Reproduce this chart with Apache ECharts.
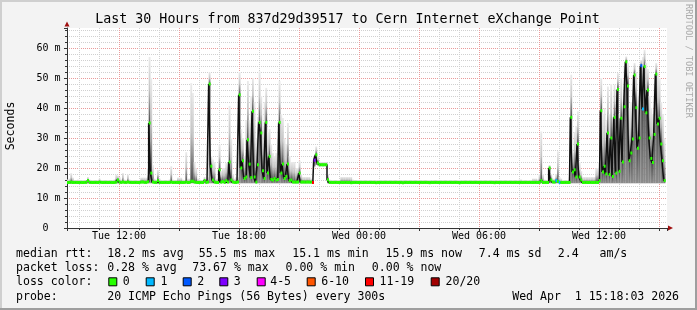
<!DOCTYPE html>
<html><head><meta charset="utf-8">
<script src="https://cdn.jsdelivr.net/npm/echarts@6/dist/echarts.min.js"></script>
<style>html,body{margin:0;padding:0;background:#f3f3f3}#c{width:697px;height:310px}</style>
</head><body><div id="c"></div>
<script>
// ---- data ----
const startHour = 9.4;            // Tue 09:24, hours since Tue 00:00
const stepHours = 5 / 60;         // one probe every 300 s
const spanHours = 30;
// median rtt per 5-minute step (ms), 12 steps per row
const medianRtt = [
15.2,15.2,15.3,15.2,15.2,15.2,15.2,15.2,15.2,15.2,15.2,15.2,
15.8,15.2,15.2,15.2,15.2,15.2,15.2,15.3,15.2,15.2,15.2,15.2,
15.2,15.2,15.2,15.2,15.2,15.3,16.0,15.3,15.2,15.3,15.2,15.2,
15.3,15.2,15.2,15.2,15.2,15.2,15.2,15.2,15.3,15.3,15.2,15.2,
15.4,35.0,18.3,15.3,15.2,15.2,15.8,15.2,15.2,15.2,15.2,15.2,
15.2,15.2,15.3,15.2,15.2,15.2,15.2,15.2,15.2,15.2,15.2,15.3,
15.2,15.2,15.6,15.6,15.3,15.2,15.2,15.2,15.2,15.2,15.8,15.2,
15.3,48.0,20.6,16.0,15.3,15.2,15.2,19.4,15.3,15.5,15.2,15.8,
15.3,22.0,16.0,15.3,15.2,15.2,15.3,44.4,20.0,22.4,16.5,17.0,
29.4,21.3,16.8,38.9,17.0,15.3,21.1,35.2,31.7,19.1,16.5,35.2,
18.3,23.9,16.2,16.0,16.5,16.0,16.2,35.2,18.3,21.3,16.5,17.2,
21.3,15.8,16.0,15.3,15.3,15.3,15.3,18.3,15.3,15.3,15.3,15.3,
15.3,15.3,15.3,15.2,22.6,24.4,21.7,21.1,21.1,21.1,21.1,21.1,
16.1,15.2,15.2,15.2,15.2,15.2,15.2,15.2,15.2,15.2,15.2,15.2,
15.2,15.2,15.1,15.2,15.2,15.2,15.2,15.2,15.2,15.2,15.2,15.2,
15.2,15.2,15.2,15.2,15.2,15.1,15.2,15.2,15.2,15.2,15.2,15.2,
15.2,15.2,15.2,15.2,15.2,15.2,15.2,15.2,15.2,15.1,15.2,15.2,
15.2,15.2,15.2,15.2,15.2,15.2,15.2,15.2,15.2,15.2,15.2,15.2,
15.2,15.1,15.2,15.2,15.2,15.2,15.2,15.2,15.2,15.2,15.2,15.2,
15.2,15.2,15.2,15.2,15.2,15.2,15.2,15.1,15.2,15.2,15.2,15.2,
15.2,15.2,15.2,15.2,15.2,15.2,15.2,15.2,15.2,15.2,15.2,15.2,
15.2,15.2,15.2,15.2,15.1,15.2,15.2,15.2,15.2,15.2,15.2,15.2,
15.2,15.2,15.2,15.2,15.2,15.2,15.2,15.2,15.2,15.2,15.2,15.2,
15.2,15.2,15.2,15.2,15.2,15.2,15.2,15.2,15.8,15.2,15.2,15.2,
15.2,20.0,16.0,15.3,15.3,15.8,15.5,15.2,15.2,15.2,15.2,15.2,
15.2,15.2,36.9,18.7,19.4,17.0,28.0,17.0,16.0,15.2,15.2,15.2,
15.2,15.2,15.2,15.2,15.2,15.2,15.2,15.8,39.1,18.7,20.6,18.0,
31.7,17.8,30.0,17.2,36.9,18.3,46.2,18.9,36.6,22.0,40.4,55.4,
47.3,22.4,25.0,29.7,51.0,40.1,26.6,30.0,54.1,39.7,53.8,38.4,
46.0,30.0,23.2,21.8,31.2,51.3,34.7,36.6,28.0,22.4,15.8,null
];
// highest ping of each step (top of the smoke), ms
const smokeTop = [
16.2,16.5,18.3,16.8,16.0,16.0,16.2,16.0,16.0,16.0,16.0,16.0,
17.0,16.2,16.0,16.0,16.0,16.0,16.0,16.5,16.0,16.0,16.0,16.0,
16.0,16.0,16.0,16.0,16.2,17.8,17.5,17.0,16.2,18.3,16.2,16.0,
17.8,16.2,16.0,16.0,16.0,16.0,16.0,16.0,16.8,16.8,16.8,16.8,
20.0,57.0,50.0,21.0,16.5,16.2,19.3,16.5,16.0,16.0,16.0,16.0,
16.0,16.2,20.6,16.2,16.0,16.0,16.8,16.8,16.8,16.2,16.0,25.3,
16.5,16.5,48.3,45.0,22.0,20.0,16.5,16.2,16.0,16.0,17.0,16.5,
17.0,51.9,24.0,22.8,22.0,16.5,16.5,27.8,19.0,20.0,20.0,21.7,
21.7,40.7,30.0,18.0,16.5,17.0,17.0,52.0,33.0,30.0,24.0,36.0,
49.0,36.0,44.0,50.0,42.0,30.0,37.0,52.2,44.0,34.0,42.0,46.7,
32.0,33.0,28.0,25.0,24.0,25.0,30.0,49.0,38.0,36.7,30.0,28.0,
35.0,24.0,22.0,22.0,22.0,20.0,20.0,22.5,18.0,17.0,17.0,17.0,
17.0,17.0,16.5,16.0,24.0,27.2,24.0,22.2,22.0,22.0,22.0,22.0,
18.0,16.2,16.0,16.0,16.0,16.0,16.0,16.0,17.0,17.0,17.0,17.0,
17.0,17.0,17.0,16.2,16.0,16.0,16.0,16.0,16.0,16.0,16.0,16.0,
16.0,16.0,16.0,16.0,16.0,16.0,16.0,16.0,16.0,16.0,16.0,16.0,
16.0,16.0,16.0,16.0,16.0,16.0,16.0,16.0,16.0,16.0,16.0,16.0,
16.0,16.0,16.0,16.0,16.0,16.0,16.0,16.0,16.0,16.0,16.0,16.0,
16.0,16.0,16.0,16.0,16.0,16.0,16.0,16.0,16.0,16.0,16.0,16.0,
16.0,16.0,16.0,16.0,16.0,16.0,16.0,16.0,16.0,16.0,16.0,16.0,
16.0,16.0,16.0,16.0,16.0,16.0,16.0,16.0,16.0,16.0,16.0,16.0,
16.0,16.0,16.0,16.0,16.0,16.0,16.0,16.0,16.0,16.0,16.0,16.0,
16.0,16.0,16.0,16.0,16.0,16.0,16.0,16.2,16.2,16.0,16.0,16.0,
16.0,16.0,16.0,16.5,16.5,16.5,16.2,18.0,32.2,18.0,16.2,16.0,
16.0,21.0,18.0,16.5,16.5,18.0,25.6,17.0,16.5,16.0,16.0,16.0,
16.0,17.0,51.1,25.0,32.0,34.0,38.9,22.0,19.0,17.0,17.0,17.0,
17.0,17.0,17.0,17.0,17.0,20.0,20.0,22.0,50.0,38.0,40.0,36.0,
47.2,38.0,48.0,36.0,47.8,38.0,51.7,38.0,50.0,42.0,54.0,57.2,
55.0,40.0,42.0,46.0,55.0,52.0,44.0,46.0,56.0,57.0,59.4,55.0,
53.0,44.0,40.0,38.0,48.0,55.0,52.0,50.0,42.0,38.0,30.0,null
];
const smokeFloor = 14.9;                    // usual lowest ping, ms
const raisedFloorSteps  = [148, 149, 150, 151, 152, 153, 154, 155]; // route change: lowest ping higher
const raisedFloorValues = [20.5, 21.0, 20.8, 20.6, 20.6, 20.6, 20.6, 20.6];
const lossSteps  = [147, 148, 293, 295, 344, 345];  // steps with lost pings
const lossCounts = [12,   3,   1,   1,   2,   1];
const lossLegend = ['0','1','2','3','4-5','6-10','11-19','20/20'];
const lossColors = ['#26ff00','#00b8ff','#0059ff','#7e00ff','#ff00ff','#ff5500','#ff0000','#a10000'];
const xTickHours  = [12, 18, 24, 30, 36];
const xTickLabels = ['Tue 12:00','Tue 18:00','Wed 00:00','Wed 06:00','Wed 12:00'];
const yTickValues = [0, 10, 20, 30, 40, 50, 60];
const yTickLabels = ['0  ','10 m','20 m','30 m','40 m','50 m','60 m'];
const yMax = 200 / 3;
const titleText = 'Last 30 Hours from 837d29d39517 to Cern Internet eXchange Point';
const statLine1 = ['median rtt:','18.2 ms avg','55.5 ms max','15.1 ms min','15.9 ms now','7.4 ms sd','2.4','am/s'];
const statLine2 = ['packet loss:','0.28 % avg','73.67 % max','0.00 % min','0.00 % now'];
const statLine3 = ['loss color:'];
const statLine4 = ['probe:','20 ICMP Echo Pings (56 Bytes) every 300s','Wed Apr  1 15:18:03 2026'];
const sideText = 'RRDTOOL / TOBI OETIKER';

// ---- layout ----
const L1x = [16,107.2,198.8,292.2,385.5,478.8,557.8,599.5];
const L2x = [16,107.2,192.2,285.5,371.8];
const L4x = [16,107.2,512.2];
const boxX = [108.3,145.7,182.7,219.3,256.7,306.7,365,430.7];
const boxLabelX = [122.8,160.5,197.2,233.8,270.2,321.2,379.5,445.5];
const rowY = [254.2, 268.3, 282.3, 296.6];
const FONT = '"DejaVu Sans Mono", monospace';
const LEG_FONT = '11.55px ' + FONT;

function lossBucket(n){ if(n<=0)return 0; if(n===1)return 1; if(n===2)return 2; if(n===3)return 3; if(n<=5)return 4; if(n<=10)return 5; if(n<=19)return 6; return 7; }
const stepLoss = medianRtt.map(()=>0);
lossSteps.forEach((s,k)=>{ stepLoss[s] = lossCounts[k]; });
const stepFloor = medianRtt.map(()=>smokeFloor);
raisedFloorSteps.forEach((s,k)=>{ stepFloor[s] = raisedFloorValues[k]; });

const smokeData=[], medData=[], capData=[];
medianRtt.forEach((m,i)=>{
  if(m==null) return;
  const t = startHour + (i + 0.5) * stepHours;
  smokeData.push([t, stepFloor[i], smokeTop[i], m]);
  medData.push([t, m]);
  capData.push([t, m, lossBucket(stepLoss[i])]);
});

function fmtX(v){ const k = xTickHours.findIndex(h=>Math.abs(h-v)<1e-6); return k<0?'':xTickLabels[k]; }
function fmtY(v){ const k = yTickValues.findIndex(h=>Math.abs(h-v)<1e-6); return k<0?'':yTickLabels[k]; }

const graphics = [];
function txt(s,x,y,font,extra){ graphics.push(Object.assign({type:'text', x:x, y:y, silent:true, z:50,
  style:{text:s, font:font||LEG_FONT, fill:'#000', verticalAlign:'middle', align:'left'}}, extra||{})); }
statLine1.forEach((s,k)=>txt(s,L1x[k],rowY[0]));
statLine2.forEach((s,k)=>txt(s,L2x[k],rowY[1]));
statLine3.forEach((s,k)=>txt(s,16,rowY[2]));
statLine4.forEach((s,k)=>txt(s,L4x[k],rowY[3]));
lossLegend.forEach((s,k)=>{
  graphics.push({type:'rect', silent:true, z:50, shape:{x:boxX[k]+0.5, y:rowY[2]-4.5, width:8, height:8},
    style:{fill:lossColors[k], stroke:'#000', lineWidth:1}});
  txt(s, boxLabelX[k], rowY[2]);
});
graphics.push({type:'text', x:347.5, y:19.5, silent:true, z:50,
  style:{text:titleText, font:'13.3px '+FONT, fill:'#000', align:'center', verticalAlign:'middle'}});
graphics.push({type:'text', x:11, y:126, rotation:Math.PI/2, silent:true, z:50,
  style:{text:'Seconds', font:'11.55px '+FONT, fill:'#000', align:'center', verticalAlign:'middle'}});
graphics.push({type:'text', x:688, y:61, rotation:-Math.PI/2, silent:true, z:50,
  style:{text:sideText, font:'8.6px '+FONT, fill:'#ababab', align:'center', verticalAlign:'middle'}});
// axis arrows
graphics.push({type:'polygon', silent:true, z:60, shape:{points:[[668,225.5],[668,230.5],[673,228]]}, style:{fill:'#a01010'}});
graphics.push({type:'polygon', silent:true, z:60, shape:{points:[[64.5,26.5],[69.5,26.5],[67,21.5]]}, style:{fill:'#a01010'}});
// frame
graphics.push({type:'rect', silent:true, z:70, shape:{x:0,y:0,width:697,height:2}, style:{fill:'#cfcfcf'}});
graphics.push({type:'rect', silent:true, z:70, shape:{x:0,y:0,width:2,height:310}, style:{fill:'#cfcfcf'}});
graphics.push({type:'rect', silent:true, z:70, shape:{x:0,y:308,width:697,height:2}, style:{fill:'#9e9e9e'}});
graphics.push({type:'rect', silent:true, z:70, shape:{x:695,y:0,width:2,height:310}, style:{fill:'#9e9e9e'}});

const minorGrid = {color:'#d0d0d0', width:1, type:[1,1]};
const majorGrid = {color:'#ea9a9a', width:1, type:[1,1]};
const axisCol = '#333';

const chart = echarts.init(document.getElementById('c'), null, {renderer:'canvas', width:697, height:310});
chart.setOption({
  animation:false,
  backgroundColor:'#f3f3f3',
  grid:{left:67, top:28, width:600, height:200, show:true, backgroundColor:'#ffffff', borderWidth:0, containLabel:false, outerBoundsMode:'none'},
  xAxis:[
    {type:'value', position:'bottom', min:startHour, max:startHour+spanHours, minInterval:1, maxInterval:1,
     axisLine:{show:true, onZero:false, lineStyle:{color:axisCol, width:1}},
     axisTick:{show:true, length:2, lineStyle:{color:axisCol}},
     axisLabel:{show:false},
     splitLine:{show:true, showMinLine:false, showMaxLine:false, lineStyle:minorGrid}},
    {type:'value', position:'bottom', min:startHour, max:startHour+spanHours, minInterval:3, maxInterval:3,
     axisLine:{show:false, onZero:false},
     axisTick:{show:true, length:3, lineStyle:{color:axisCol}},
     axisLabel:{show:true, formatter:fmtX, fontFamily:FONT, fontSize:10, color:'#000', margin:3.5, showMinLabel:true, showMaxLabel:true, hideOverlap:false},
     splitLine:{show:true, showMinLine:false, showMaxLine:false, lineStyle:majorGrid}}
  ],
  yAxis:[
    {type:'value', position:'left', min:0, max:yMax, interval:2,
     axisLine:{show:true, onZero:false, lineStyle:{color:axisCol, width:1}},
     axisTick:{show:true, length:2, lineStyle:{color:axisCol}},
     axisLabel:{show:false},
     splitLine:{show:true, showMinLine:false, showMaxLine:false, lineStyle:minorGrid}},
    {type:'value', position:'left', min:0, max:yMax, interval:10,
     axisLine:{show:false, onZero:false},
     axisTick:{show:true, length:3, lineStyle:{color:axisCol}},
     axisLabel:{show:true, formatter:fmtY, fontFamily:FONT, fontSize:10, color:'#000', margin:6.5, hideOverlap:false},
     splitLine:{show:true, showMinLine:false, showMaxLine:false, lineStyle:majorGrid}}
  ],
  series:[
    {type:'custom', name:'smoke', xAxisIndex:0, yAxisIndex:0, z:1, clip:true, silent:true,
     data:smokeData, encode:{x:0, y:[1,2]},
     renderItem:function(params, api){
       const t=api.value(0), lo=api.value(1), hi=api.value(2), med=api.value(3);
       const a=api.coord([t-stepHours/2, hi]);
       const b=api.coord([t+stepHours/2, lo]);
       let f=(hi-med)/(hi-lo); f=Math.min(0.999, Math.max(0.001, f));
       return {type:'rect', shape:{x:a[0], y:a[1], width:b[0]-a[0]+0.15, height:b[1]-a[1]},
         style:{fill:{type:'linear', x:0, y:0, x2:0, y2:1, colorStops:[
           {offset:0, color:'#ebebeb'},
           {offset:f*0.5, color:'#c4c4c4'},
           {offset:f, color:'#4e4e4e'},
           {offset:1, color:'#8c8c8c'}]}}};
     }},
    {type:'line', name:'median', xAxisIndex:0, yAxisIndex:0, z:2, data:medData, step:'middle',
     symbol:'none', silent:true, lineStyle:{color:'#101010', width:1.5}},
    {type:'custom', name:'loss', xAxisIndex:0, yAxisIndex:0, z:3, clip:true, silent:true,
     data:capData, encode:{x:0, y:1},
     renderItem:function(params, api){
       const t=api.value(0), m=api.value(1), c=api.value(2);
       const a=api.coord([t-stepHours/2, m]);
       const b=api.coord([t+stepHours/2, m]);
       return {type:'rect', shape:{x:a[0], y:a[1]-1.5, width:b[0]-a[0]+0.3, height:3},
         style:{fill:lossColors[c]}};
     }}
  ],
  graphic:{elements:graphics}
});
</script></body></html>
